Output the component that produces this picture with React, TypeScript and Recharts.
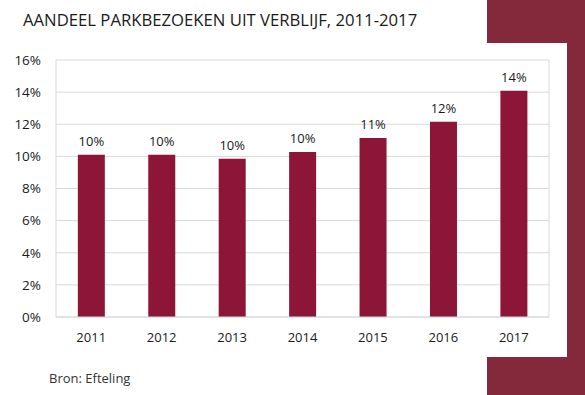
import React from "react";
import { BarChart, Bar, XAxis, YAxis, CartesianGrid, LabelList } from "recharts";

const years = ["2011", "2012", "2013", "2014", "2015", "2016", "2017"];
const shares = [10.1, 10.1, 9.85, 10.27, 11.15, 12.15, 14.08];
const yTicks = [0, 2, 4, 6, 8, 10, 12, 14, 16];

const data = years.map((y, i) => ({ year: y, share: shares[i] }));

const ACCENT = "#84293C";
const BAR = "#8C1538";
const FONT = "'Open Sans', sans-serif";

export default function App() {
  return (
    <div style={{ position: "absolute", left: 0, top: 0, width: 585, height: 395, background: "#fff", overflow: "hidden", fontFamily: FONT }}>
      <div style={{ position: "absolute", left: 487, top: 0, width: 98, height: 43, background: ACCENT }} />
      <div style={{ position: "absolute", left: 567, top: 0, width: 18, height: 395, background: ACCENT }} />
      <div style={{ position: "absolute", left: 487, top: 357, width: 98, height: 38, background: ACCENT }} />
      <div style={{ position: "absolute", left: 23, top: 8, fontSize: 16.7, color: "#1a1a1a", whiteSpace: "nowrap" }}>
        AANDEEL PARKBEZOEKEN UIT VERBLIJF, 2011-2017
      </div>
      <div style={{ position: "absolute", left: 49, top: 369, fontSize: 13, color: "#333", whiteSpace: "nowrap" }}>
        Bron: Efteling
      </div>
      <div style={{ position: "absolute", left: 0, top: 0 }}>
        <BarChart width={585} height={395} data={data} margin={{ top: 60, right: 36, left: 0, bottom: 48 }} barCategoryGap="31%">
          <CartesianGrid
            stroke="#d9d9d9"
            vertical={true}
            verticalCoordinatesGenerator={({ offset }: any) => [offset.left, offset.left + offset.width]}
          />
          <XAxis
            dataKey="year"
            tickLine={false}
            axisLine={{ stroke: "#d9d9d9" }}
            tick={{ fill: "#1a1a1a", fontSize: 13, fontFamily: FONT }}
            tickMargin={10}
            height={30}
          />
          <YAxis
            domain={[0, 16]}
            ticks={yTicks}
            tickFormatter={(v: number) => `${v}%`}
            tickLine={false}
            axisLine={false}
            tick={{ fill: "#1a1a1a", fontSize: 13.5, fontFamily: FONT }}
            tickMargin={9}
            width={56}
            interval={0}
          />
          <Bar dataKey="share" fill={BAR} isAnimationActive={false}>
            <LabelList
              dataKey="share"
              position="top"
              offset={9}
              formatter={(v: number) => `${Math.round(v)}%`}
              style={{ fill: "#1a1a1a", fontSize: 13, fontFamily: FONT }}
            />
          </Bar>
        </BarChart>
      </div>
    </div>
  );
}
